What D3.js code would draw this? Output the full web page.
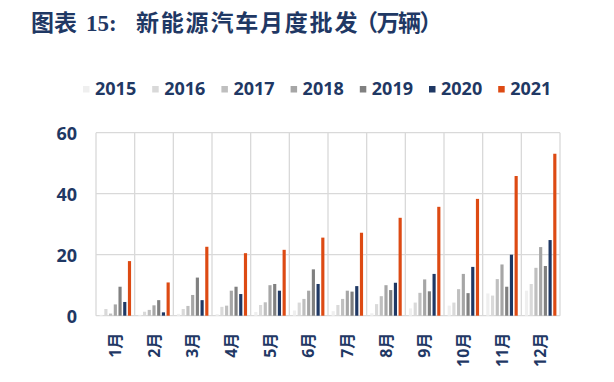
<!DOCTYPE html>
<html>
<head>
<meta charset="utf-8">
<script src="https://cdn.jsdelivr.net/npm/d3@7"></script>
<style>
	body { margin: 0; background: #fff; }
	svg { display: block; }
	.title { text-spacing-trim: space-all; }
</style>
</head>
<body>
<div id="chart"></div>
<script>
	'use strict';

	var months = ['1月', '2月', '3月', '4月', '5月', '6月', '7月', '8月', '9月', '10月', '11月', '12月'];
	var years = ['2015', '2016', '2017', '2018', '2019', '2020', '2021'];
	var yTicks = [0, 20, 40, 60];

	// monthly wholesale, 10k units
	var v2015 = [0.3, 0.3, 0.6, 0.5, 1.2, 1.7, 1.5, 0.8, 2.4, 3.3, 7.3, 8.2];
	var v2016 = [2.2, 1.3, 2.2, 2.9, 3.5, 4.3, 3.5, 3.8, 4.3, 4.3, 6.6, 10.4];
	var v2017 = [0.7, 1.9, 3.2, 3.3, 4.4, 5.5, 5.5, 6.4, 7.5, 8.7, 12.0, 15.7];
	var v2018 = [3.7, 3.4, 6.8, 8.2, 10.0, 8.2, 8.2, 10.0, 11.9, 13.7, 16.8, 22.5];
	var v2019 = [9.5, 5.1, 12.5, 9.5, 10.4, 15.2, 7.9, 8.4, 8.0, 7.4, 9.5, 16.3];
	var v2020 = [4.5, 1.1, 5.1, 7.1, 8.2, 10.4, 9.7, 10.8, 13.7, 16.0, 20.0, 24.8];
	var v2021 = [17.9, 10.9, 22.6, 20.5, 21.6, 25.6, 27.2, 32.1, 35.7, 38.3, 45.8, 53.1];

	var series = [v2015, v2016, v2017, v2018, v2019, v2020, v2021];
	var colors = ['#efefef', '#d9d9d9', '#bfbfbf', '#a6a6a6', '#808080', '#1f3864', '#dd4a13'];

	( function () {
		var navy = '#1f3864';
		var gridColor = '#d9d9d9';

		var width = 614, height = 382;
		var plotLeft = 96, plotRight = 560, plotTop = 132.7, plotBottom = 315.7;

		var svg = d3.select('#chart')
			.append('svg')
			.attr('width', width)
			.attr('height', height);

		// title, placed piece by piece to match the spacing
		var titleParts = [
			{ x: 31, text: '图表', spacing: 0 },
			{ x: 86, text: '15:', spacing: 0 },
			{ x: 136, text: '新能源汽车月度批发', spacing: 1.8 },
			{ x: 355, text: '（万辆）', spacing: -1.5 }
		];
		svg.append('g')
			.selectAll('text')
			.data(titleParts)
			.enter()
			.append('text')
			.attr('class', 'title')
			.attr('x', function (d) { return d.x; })
			.attr('y', 31)
			.attr('fill', navy)
			.style('font-family', '"Liberation Serif", "Noto Sans CJK SC", serif')
			.style('font-size', '23px')
			.style('font-weight', 'bold')
			.style('letter-spacing', function (d) { return d.spacing + 'px'; })
			.text(function (d) { return d.text; });

		var x = d3.scaleBand()
			.domain(months)
			.range([plotLeft, plotRight]);

		var xInner = d3.scaleBand()
			.domain(years)
			.range([3.6, x.bandwidth() - 3.6])
			.paddingInner(0.33);

		var y = d3.scaleLinear()
			.domain([0, 60])
			.range([plotBottom, plotTop]);

		// grid
		var grid = svg.append('g')
			.attr('stroke', gridColor)
			.attr('stroke-width', 1.3);

		grid.selectAll('line.h')
			.data(yTicks)
			.enter()
			.append('line')
			.attr('class', 'h')
			.attr('x1', plotLeft)
			.attr('x2', plotRight)
			.attr('y1', function (d) { return y(d); })
			.attr('y2', function (d) { return y(d); });

		grid.selectAll('line.v')
			.data(months.concat(['end']))
			.enter()
			.append('line')
			.attr('class', 'v')
			.attr('x1', function (d) { return d === 'end' ? plotRight : x(d); })
			.attr('x2', function (d) { return d === 'end' ? plotRight : x(d); })
			.attr('y1', plotTop)
			.attr('y2', plotBottom);

		// bars
		var groups = svg.append('g')
			.selectAll('g')
			.data(series)
			.enter()
			.append('g')
			.attr('fill', function (d, i) { return colors[i]; });

		groups.selectAll('rect')
			.data(function (d, i) {
				return d.map(function (v, j) {
					return { month: months[j], year: years[i], value: v };
				});
			})
			.enter()
			.append('rect')
			.attr('x', function (d) { return x(d.month) + xInner(d.year); })
			.attr('width', xInner.bandwidth())
			.attr('y', function (d) { return y(d.value); })
			.attr('height', function (d) { return y(0) - y(d.value); });

		// y axis
		var yAxis = svg.append('g')
			.attr('transform', 'translate(' + (plotLeft - 19) + ',0)')
			.call(d3.axisLeft(y).tickValues(yTicks).tickSize(0).tickPadding(0));
		yAxis.select('.domain').remove();
		yAxis.selectAll('text')
			.attr('fill', navy)
			.attr('dy', '0.35em')
			.style('font-family', '"Open Sans", sans-serif')
			.style('font-size', '18px')
			.style('font-weight', 'bold');

		// x axis, labels rotated
		svg.append('g')
			.selectAll('text')
			.data(months)
			.enter()
			.append('text')
			.attr('transform', function (d) {
				return 'translate(' + (x(d) + x.bandwidth() / 2) + ',' + (plotBottom + 17) + ') rotate(-90)';
			})
			.attr('text-anchor', 'end')
			.attr('dy', '0.36em')
			.attr('fill', navy)
			.style('font-family', '"Open Sans", "Noto Sans CJK SC", sans-serif')
			.style('font-size', '16px')
			.style('font-weight', 'bold')
			.text(function (d) { return d; });

		// legend
		var legend = svg.append('g')
			.selectAll('g')
			.data(years)
			.enter()
			.append('g')
			.attr('transform', function (d, i) {
				return 'translate(' + (95 + i * 69.2) + ',89)';
			});

		legend.append('rect')
			.attr('x', -12)
			.attr('y', -3)
			.attr('width', 6.5)
			.attr('height', 6.5)
			.attr('fill', function (d, i) { return colors[i]; });

		legend.append('text')
			.attr('dy', '0.36em')
			.attr('fill', navy)
			.style('font-family', '"Open Sans", sans-serif')
			.style('font-size', '18px')
			.style('font-weight', 'bold')
			.text(function (d) { return d; });
	}() );
</script>
</body>
</html>
